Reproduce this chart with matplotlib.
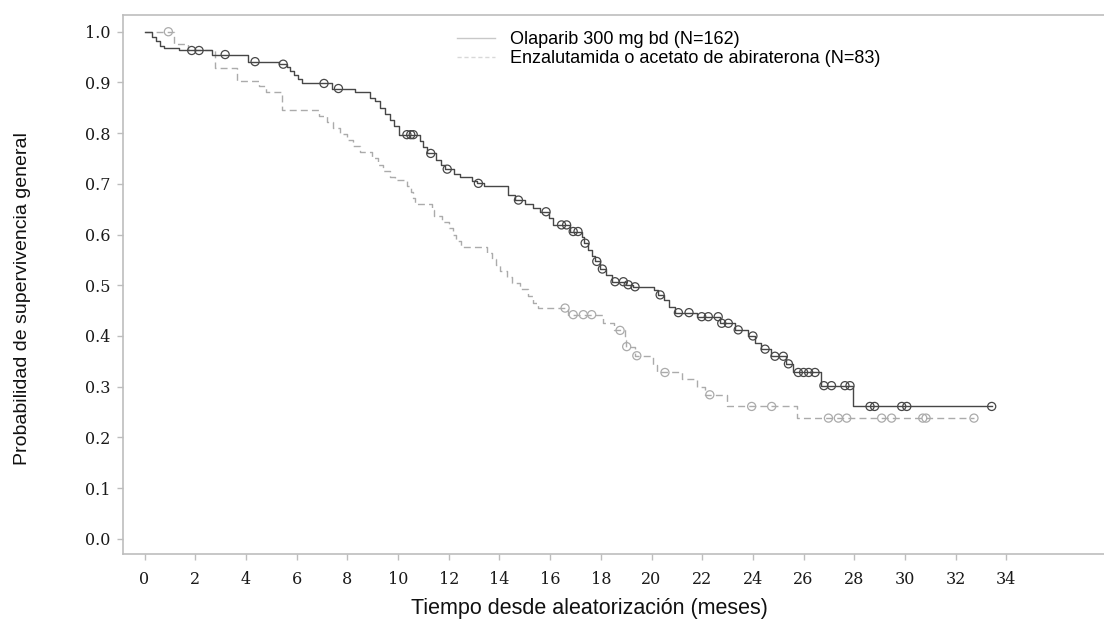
import matplotlib

matplotlib.use("Agg")
import matplotlib.pyplot as plt
import numpy as np
from matplotlib.lines import Line2D

# Olaparib arm: step times (months) and survival after each step
OLA_TIMES = [0.0, 0.3, 0.45, 0.6, 0.75, 1.35, 2.65, 4.1, 5.3, 5.6, 5.75, 5.9, 6.05, 6.2,
             7.38, 8.3, 8.9, 9.1, 9.3, 9.5, 9.7, 9.85, 10.05, 10.85, 11.0, 11.15, 11.5,
             11.7, 11.85, 12.2, 12.45, 12.9, 13.1, 13.4, 14.35, 14.6, 15.0, 15.34, 15.6,
             15.95, 16.13, 16.8, 17.25, 17.33, 17.5, 17.65, 17.78, 17.95, 18.2, 18.43,
             19.0, 19.25, 20.1, 20.25, 20.5, 20.7, 20.93, 21.8, 22.7, 23.3, 23.8, 24.1,
             24.3, 24.7, 25.3, 25.6, 26.7, 27.93]
OLA_SURV = [1.0, 0.99, 0.982, 0.972, 0.967, 0.963, 0.955, 0.941, 0.936, 0.93, 0.922, 0.914,
            0.906, 0.898, 0.888, 0.882, 0.87, 0.864, 0.85, 0.838, 0.826, 0.815, 0.797,
            0.784, 0.772, 0.76, 0.748, 0.738, 0.729, 0.72, 0.714, 0.706, 0.701, 0.696,
            0.678, 0.668, 0.66, 0.652, 0.645, 0.632, 0.619, 0.606, 0.595, 0.583, 0.57,
            0.558, 0.547, 0.532, 0.52, 0.507, 0.501, 0.497, 0.49, 0.481, 0.47, 0.458,
            0.446, 0.438, 0.425, 0.412, 0.4, 0.387, 0.374, 0.36, 0.345, 0.328, 0.302, 0.261]
OLA_CENSOR = [1.86, 2.15, 3.18, 4.36, 5.47, 7.08, 7.65, 10.35, 10.5, 10.6, 11.29, 11.94,
              13.17, 14.75, 15.84, 16.45, 16.65, 16.91, 17.1, 17.38, 17.84, 18.06, 18.56,
              18.89, 19.08, 19.35, 20.34, 21.06, 21.48, 21.98, 22.24, 22.63, 22.77, 23.03,
              23.42, 24.0, 24.48, 24.87, 25.2, 25.4, 25.79, 26.0, 26.2, 26.45, 26.8, 27.1,
              27.63, 27.83, 28.62, 28.8, 29.87, 30.07, 33.42]

# Enzalutamide / abiraterone arm
ENZ_TIMES = [0.0, 1.15, 1.7, 2.78, 3.64, 4.5, 4.8, 5.41, 6.9, 7.2, 7.45, 7.71, 8.0, 8.24,
             8.5, 8.96, 9.2, 9.42, 9.7, 9.88, 10.34, 10.5, 10.6, 10.67, 11.33, 11.4, 11.72,
             12.0, 12.18, 12.3, 12.5, 13.5, 13.7, 13.85, 14.02, 14.3, 14.48, 14.81, 15.14,
             15.34, 15.53, 16.72, 18.1, 18.5, 18.95, 19.0, 19.35, 20.07, 20.2, 21.2, 21.8,
             22.1, 22.96, 25.73]
ENZ_SURV = [1.0, 0.976, 0.964, 0.928, 0.903, 0.892, 0.882, 0.846, 0.834, 0.822, 0.81, 0.798,
            0.786, 0.774, 0.762, 0.75, 0.738, 0.726, 0.714, 0.708, 0.696, 0.684, 0.672,
            0.66, 0.648, 0.636, 0.624, 0.612, 0.6, 0.588, 0.576, 0.564, 0.552, 0.54, 0.528,
            0.516, 0.504, 0.492, 0.478, 0.466, 0.455, 0.442, 0.425, 0.411, 0.393, 0.379,
            0.361, 0.343, 0.328, 0.315, 0.3, 0.284, 0.261, 0.238]
ENZ_CENSOR = [0.94, 16.59, 16.91, 17.31, 17.64, 18.76, 19.02, 19.42, 20.53, 22.3, 23.95,
              24.74, 26.98, 27.37, 27.7, 29.08, 29.47, 30.7, 30.83, 32.72]

LEGEND_LABELS = ["Olaparib 300 mg bd (N=162)", "Enzalutamida o acetato de abiraterona (N=83)"]
X_TICKS = list(range(0, 35, 2))
Y_TICKS = [0.0, 0.1, 0.2, 0.3, 0.4, 0.5, 0.6, 0.7, 0.8, 0.9, 1.0]

SOLID_COLOR = "#474747"
DASH_COLOR = "#ababab"
SPINE_COLOR = "#bdbdbd"


def _survival_at(times, surv, t):
    idx = np.searchsorted(np.asarray(times), t, side="right") - 1
    return np.asarray(surv)[idx]


def _draw_arm(ax, times, surv, censor, color, linestyle):
    end = max(censor[-1], times[-1])
    ax.step(list(times) + [end], list(surv) + [surv[-1]], where="post",
            color=color, linewidth=1.0, linestyle=linestyle, zorder=2)
    cy = [_survival_at(times, surv, t) for t in censor]
    ax.scatter(censor, cy, s=34, facecolors="none", edgecolors=color,
               linewidths=0.9, zorder=3)


fig = plt.figure(figsize=(11.04, 6.26), dpi=100)
ax = fig.add_axes([123 / 1104, 1 - 554 / 626, 1 - 123 / 1104, (554 - 15) / 626])

_draw_arm(ax, ENZ_TIMES, ENZ_SURV, ENZ_CENSOR, DASH_COLOR, (0, (5, 3)))
_draw_arm(ax, OLA_TIMES, OLA_SURV, OLA_CENSOR, SOLID_COLOR, "-")

ax.set_xlim(-0.85, 37.85)
ax.set_ylim(-0.03, 1.033)
ax.set_xticks(X_TICKS)
ax.set_yticks(Y_TICKS)
ax.set_yticklabels([f"{v:.1f}" for v in Y_TICKS])
ax.tick_params(direction="out", length=4, width=1, color=SPINE_COLOR,
               labelsize=11.5, labelcolor="#1a1a1a")
ax.tick_params(axis="y", pad=5)
ax.tick_params(axis="x", pad=8)
for label in ax.get_xticklabels() + ax.get_yticklabels():
    label.set_family("DejaVu Serif")
for side in ("left", "bottom", "top"):
    ax.spines[side].set_color(SPINE_COLOR)
    ax.spines[side].set_linewidth(1.2)
ax.spines["right"].set_visible(False)

ax.set_xlabel("Tiempo desde aleatorización (meses)", family="Liberation Sans",
              fontsize=15.5, color="#111111")
ax.set_ylabel("Probabilidad de supervivencia general", family="Liberation Sans",
              fontsize=14, color="#111111")
ax.xaxis.set_label_coords((589 - 123) / 981, (554 - 598) / 539)
ax.yaxis.set_label_coords((31 - 123) / 981, (554 - 299) / 539)

handles = [Line2D([], [], color="#c8c8c8", linewidth=1.0),
           Line2D([], [], color="#d8d8d8", linewidth=1.0, linestyle=(0, (3, 2)))]
fig.legend(handles, LEGEND_LABELS, loc="upper left", bbox_to_anchor=(450 / 1104, 1 - 24 / 626),
           frameon=False, prop={"family": "Liberation Sans", "size": 13},
           handlelength=2.1, handletextpad=0.8, labelspacing=0.12, borderaxespad=0)

fig.savefig("out.png", dpi=100)
